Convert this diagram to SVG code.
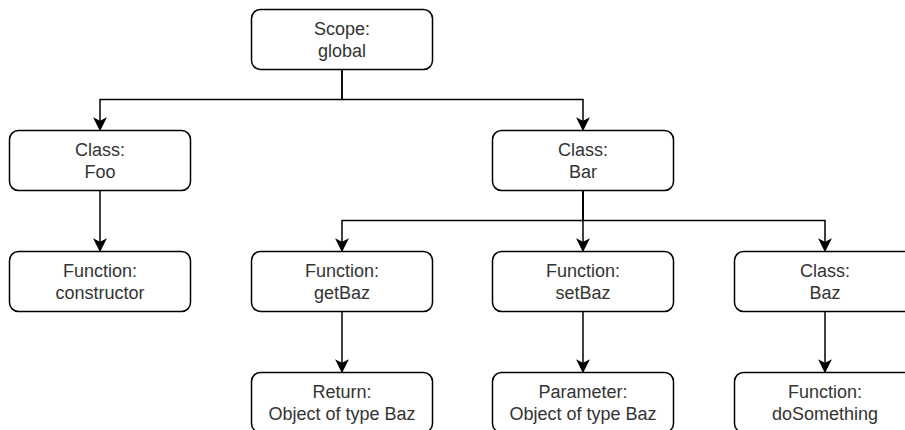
<svg xmlns="http://www.w3.org/2000/svg" width="905" height="430" viewBox="0 0 905 430">
  <style>
    .box { fill: #ffffff; stroke: #000000; stroke-width: 1.5; }
    .lbl { font-family: "Liberation Sans", Arial, Helvetica, sans-serif; font-size: 18px; fill: #333333; text-anchor: middle; }
    .edge { fill: none; stroke: #000000; stroke-width: 1.5; marker-end: url(#arrow); }
  </style>
  <defs>
    <marker id="arrow" markerUnits="userSpaceOnUse" markerWidth="14" markerHeight="14" refX="12" refY="7" orient="auto" overflow="visible">
      <path d="M12,7 L1.5,1.75 L4.125,7 L1.5,12.25 Z" fill="#000000" stroke="#000000" stroke-width="1.5" stroke-linejoin="miter"/>
    </marker>
  </defs>
  <rect width="905" height="430" fill="#ffffff"/>

  <!-- connectors -->
  <g id="connectors">
    <path class="edge" d="M342,69.5 V99.5 H100 V129.5"/>
    <path class="edge" d="M342,69.5 V99.5 H583 V129.5"/>
    <path class="edge" d="M100,190.5 V250.5"/>
    <path class="edge" d="M583,190.5 V220.5 H342 V250.5"/>
    <path class="edge" d="M583,190.5 V250.5"/>
    <path class="edge" d="M583,190.5 V220.5 H825 V250.5"/>
    <path class="edge" d="M342,311.5 V371.5"/>
    <path class="edge" d="M583,311.5 V371.5"/>
    <path class="edge" d="M825,311.5 V371.5"/>
  </g>

  <!-- nodes -->
  <g id="scope-global">
    <rect class="box" x="251.5" y="9.5" width="181" height="60" rx="9"/>
    <text class="lbl" x="342" y="35">Scope:</text>
    <text class="lbl" x="342" y="56.5">global</text>
  </g>
  <g id="class-foo">
    <rect class="box" x="9.5" y="130.5" width="181" height="60" rx="9"/>
    <text class="lbl" x="100" y="156">Class:</text>
    <text class="lbl" x="100" y="177.5">Foo</text>
  </g>
  <g id="class-bar">
    <rect class="box" x="492.5" y="130.5" width="181" height="60" rx="9"/>
    <text class="lbl" x="583" y="156">Class:</text>
    <text class="lbl" x="583" y="177.5">Bar</text>
  </g>
  <g id="function-constructor">
    <rect class="box" x="9.5" y="251.5" width="181" height="60" rx="9"/>
    <text class="lbl" x="100" y="277">Function:</text>
    <text class="lbl" x="100" y="298.5">constructor</text>
  </g>
  <g id="function-getbaz">
    <rect class="box" x="251.5" y="251.5" width="181" height="60" rx="9"/>
    <text class="lbl" x="342" y="277">Function:</text>
    <text class="lbl" x="342" y="298.5">getBaz</text>
  </g>
  <g id="function-setbaz">
    <rect class="box" x="492.5" y="251.5" width="181" height="60" rx="9"/>
    <text class="lbl" x="583" y="277">Function:</text>
    <text class="lbl" x="583" y="298.5">setBaz</text>
  </g>
  <g id="class-baz">
    <rect class="box" x="734.5" y="251.5" width="181" height="60" rx="9"/>
    <text class="lbl" x="825" y="277">Class:</text>
    <text class="lbl" x="825" y="298.5">Baz</text>
  </g>
  <g id="return-baz">
    <rect class="box" x="251.5" y="372.5" width="181" height="60" rx="9"/>
    <text class="lbl" x="342" y="398">Return:</text>
    <text class="lbl" x="342" y="419.5">Object of type Baz</text>
  </g>
  <g id="parameter-baz">
    <rect class="box" x="492.5" y="372.5" width="181" height="60" rx="9"/>
    <text class="lbl" x="583" y="398">Parameter:</text>
    <text class="lbl" x="583" y="419.5">Object of type Baz</text>
  </g>
  <g id="function-dosomething">
    <rect class="box" x="734.5" y="372.5" width="181" height="60" rx="9"/>
    <text class="lbl" x="825" y="398">Function:</text>
    <text class="lbl" x="825" y="419.5">doSomething</text>
  </g>
</svg>
